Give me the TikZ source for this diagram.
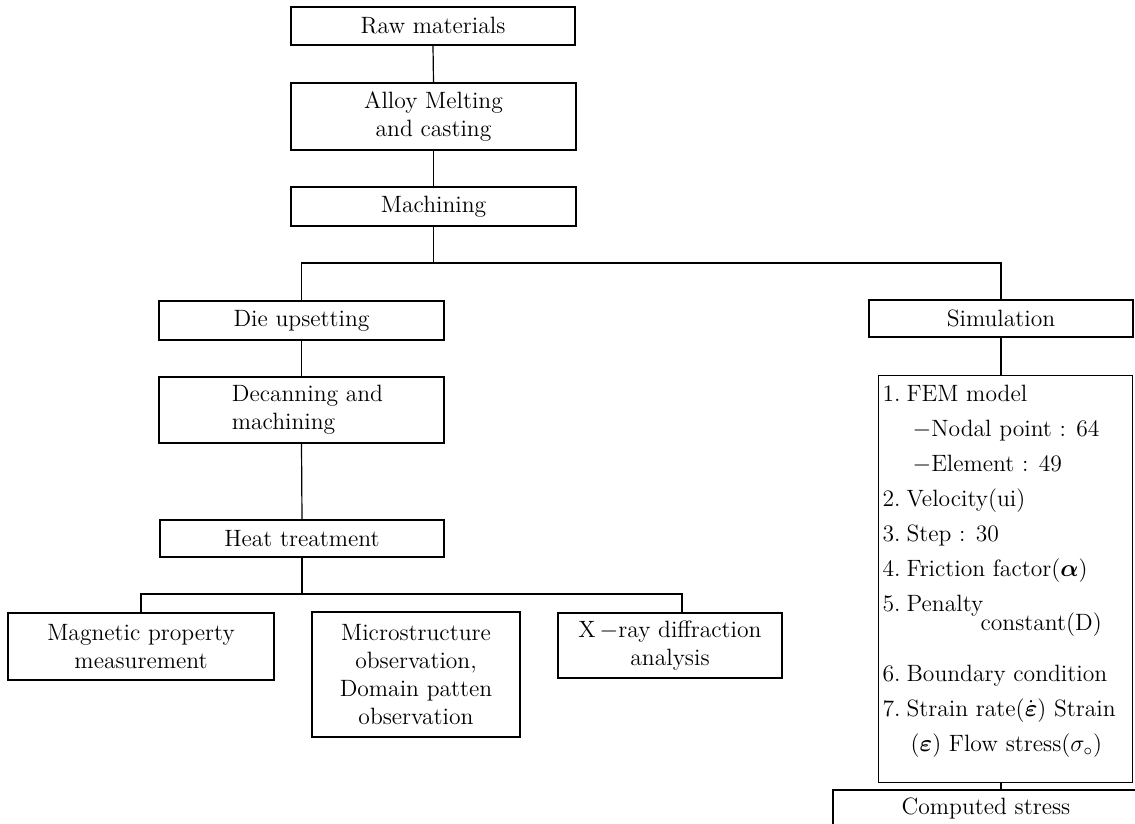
\documentclass[tikz,border=0pt]{standalone}
\usepackage{amsmath}
\tikzset{
  box/.style={draw, line width=0.6pt, inner sep=0pt, align=center,
    font=\fontsize{11.8}{13.75}\selectfont},
  conn/.style={line width=0.6pt}
}
\begin{document}
\begin{tikzpicture}[x=0.5pt,y=-0.5pt]
\clip (0,0) rectangle (1135,824);
\fill[white] (0,0) rectangle (1135,824);
% top chain
\node[box, minimum width=142pt, minimum height=19pt] (raw) at (433,26) {Raw materials};
\node[box, minimum width=142.5pt, minimum height=33.5pt] (alloy) at (433.5,116.5) {Alloy Melting\\and casting};
\node[box, minimum width=142.5pt, minimum height=19.5pt] (mach) at (433.5,206.5) {Machining};
% left chain
\node[box, minimum width=142.5pt, minimum height=19.5pt] (die) at (301.5,320.5) {Die upsetting};
\node[draw, line width=0.6pt, inner sep=0pt, minimum width=142.5pt, minimum height=33pt,
  font=\fontsize{11.8}{14}\selectfont] (decan) at (301.5,410)
  {\hspace*{6pt}\begin{tabular}{@{}l@{}}Decanning and\\machining\end{tabular}};
\node[box, minimum width=142pt, minimum height=18.5pt] (heat) at (302,538.5) {Heat treatment};
% bottom row
\node[box, minimum width=133pt, minimum height=33.5pt] (mag) at (141,646.5) {Magnetic property\\measurement};
\node[box, minimum width=104pt, minimum height=62.5pt, font=\fontsize{11.8}{14}\selectfont] (micro) at (416,674.5)
  {Microstructure\\observation,\\Domain patten\\observation};
\node[box, minimum width=112pt, minimum height=32.5pt] (xray) at (670,645.5) {X\,$-$ray diffraction\\analysis};
% right chain
\node[box, minimum width=132pt, minimum height=18.5pt] (sim) at (1001,318.5) {Simulation};
\node[draw, line width=0.6pt, inner sep=0pt, anchor=north west,
  font=\fontsize{11.8}{17.5}\selectfont] (list) at (878,375) {%
  \begin{minipage}[t][203.5pt][t]{127pt}
  \setlength{\parindent}{0pt}\setlength{\leftskip}{2pt}%
  \fontsize{11.8}{17.5}\selectfont
  \vspace*{5pt}%
  \mbox{\makebox[12pt][l]{1.}FEM model}\par
  \mbox{\hspace*{15pt}$-$Nodal point : 64}\par
  \mbox{\hspace*{15pt}$-$Element : 49}\par
  \mbox{\makebox[12pt][l]{2.}Velocity(ui)}\par
  \mbox{\makebox[12pt][l]{3.}Step : 30}\par
  \mbox{\makebox[12pt][l]{4.}Friction factor($\boldsymbol{\alpha}$)}\par
  \mbox{\makebox[12pt][l]{5.}Penalty}\par
  \vspace{-8pt}%
  \mbox{\hspace*{49pt}constant(D)}\par
  \vspace{8pt}%
  \mbox{\makebox[12pt][l]{6.}Boundary condition}\par
  \mbox{\makebox[12pt][l]{7.}Strain rate($\dot{\boldsymbol{\varepsilon}}$) Strain}\par
  \mbox{\hspace*{14pt}($\boldsymbol{\varepsilon}$) Flow stress($\sigma_{\circ}$)}\par
  \end{minipage}};
\node[box, minimum width=153pt, minimum height=18pt] (comp) at (986,808) {Computed stress};
% connectors
\coordinate (j1) at (434,263);
\coordinate (j2) at (302,594);
\draw[conn] (raw.south) -- (alloy.north);
\draw[conn] (alloy.south) -- (mach.north);
\draw[conn] (mach.south) -- (mach.south |- j1);
\draw[conn] (die.north) |- (j1) -| (sim.north);
\draw[conn] (die.south) -- (decan.north);
\draw[conn] (decan.south) -- (heat.north);
\draw[conn] (heat.south) -- (heat.south |- j2);
\draw[conn] (mag.north) |- (j2) -| ([xshift=6pt]xray.north);
\draw[conn] (sim.south) -- (sim.south |- list.north);
\draw[conn] (sim.south |- list.south) -- (sim.south |- comp.north);
\end{tikzpicture}
\end{document}
